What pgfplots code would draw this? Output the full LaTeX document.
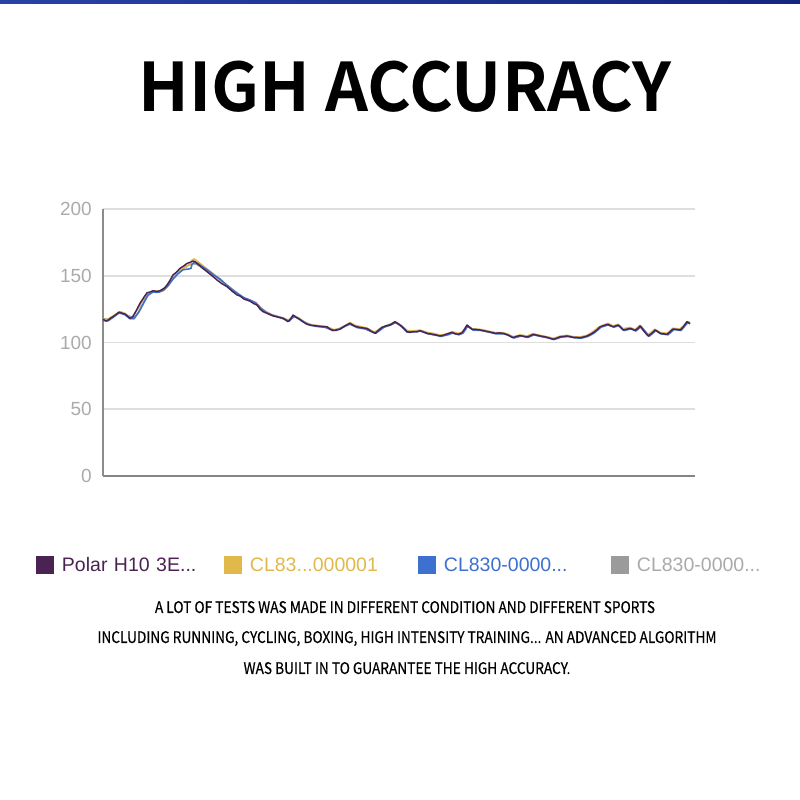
\documentclass[border=0pt]{standalone}
\usepackage{fontspec}
\usepackage{pgfplots}
\pgfplotsset{compat=1.18}
\setmainfont{Liberation Sans}
\newfontfamily\notosans{Noto Sans CJK SC}[BoldFont=* Bold]
\newfontfamily\bodyfont{Noto Sans CJK SC}[FakeStretch=0.856, FakeBold=0.35]
\definecolor{cpurple}{HTML}{4A2352}
\definecolor{cyellow}{HTML}{E1B94A}
\definecolor{cblue}{HTML}{3E70D0}
\definecolor{cgray}{HTML}{9B9B9B}
\definecolor{barL}{RGB}{40,66,165}
\definecolor{barR}{RGB}{20,38,128}

\pgfplotstableread{
x y
0 117.4
3 116.0
5 116.8
8 118.5
10 119.3
13 121.0
16 122.8
19 122.0
22 121.3
25 119.5
27 118.1
30 119.3
33 123.5
37 129.4
41 134.0
44 137.3
47 137.8
50 138.8
54 138.2
57 138.8
61 140.5
64 143
67 146.5
70 150.6
74 153.0
77 155.6
81 157.5
84 159.3
87 160.0
90 161.0
92 160.5
94 159.3
99 156.0
104 153
109 150.0
114 146.8
119 144.0
124 141.8
129 138.5
134 135.6
137 134.8
141 132.5
147 131.0
151 129.0
154 128.1
157 125.0
160 123.1
165 121.5
170 119.9
175 119.0
180 118.1
185 115.6
188 118.0
190 120.6
193 119.0
195 118.1
200 115.5
204 113.6
209 112.8
214 112.4
219 112.0
224 111.8
227 110.0
230 108.9
234 109.5
237 109.9
242 112.5
247 114.4
251 112.5
254 111.8
259 111.0
264 110.6
268 108.5
272 106.9
276 109.5
279 111.4
283 112.5
287 113.1
292 115.6
297 113.1
301 110.5
304 108.1
307 107.5
310 108.1
314 108.0
317 108.9
320 108.0
324 106.9
327 106.5
330 106.1
334 105.5
337 104.9
341 105.6
344 106.5
349 107.6
352 106.5
355 106.1
359 107.3
362 110.5
364 113.1
366 111.5
369 109.9
373 109.8
377 109.4
381 108.8
385 108.1
389 107.5
392 106.9
396 107.2
400 106.9
405 105.6
410 103.6
413 104.5
417 105.2
421 104.6
424 104.1
427 105.0
430 106.1
434 105.5
437 104.9
441 104.4
444 103.9
447 103.2
450 102.4
454 103.3
457 104.3
461 104.6
464 104.9
467 104.4
470 103.9
474 103.8
477 103.6
481 104.2
484 104.9
487 106.0
490 107.3
494 109.5
497 111.8
501 112.8
505 113.6
507 112.8
510 111.8
513 112.5
515 113.1
518 111.0
520 109.4
524 110.0
527 110.6
530 109.8
532 108.9
535 110.8
537 112.4
541 108.5
545 104.9
549 107.0
552 109.4
555 108.0
557 106.9
561 106.4
564 106.1
567 108.0
570 110.1
574 109.8
577 109.4
580 111.5
584 115.6
587 114.0
}\polar

\pgfplotstableread{
x y
0 117.0
5 117.3
10 119.8
16 122.5
22 121.8
27 118.5
31 117.8
35 122.0
39 128.0
44 134.5
48 137.5
53 138.5
58 138.2
62 139.8
66 143.5
70 148.0
75 152.5
80 155.5
84 157.0
87 159.0
89 161.5
91 162.5
94 161.0
98 158.5
104 155.0
110 151.5
116 148.0
122 144.0
128 140.5
134 137.0
140 133.5
146 132.0
152 130.0
157 126.5
162 123.5
168 121.0
174 119.5
180 118.5
185 116.5
190 119.8
195 118.5
200 116.0
205 113.8
212 112.8
220 112.2
226 111.0
231 109.5
237 110.5
243 113.0
247 114.8
253 112.5
260 111.5
266 110.0
272 107.5
279 111.0
286 113.5
292 115.0
298 112.5
304 108.8
310 108.6
317 109.2
324 107.5
330 106.8
337 105.5
344 106.2
349 108.0
355 106.8
359 107.5
364 112.6
369 110.2
377 109.8
385 108.6
392 107.3
400 107.2
405 106.2
410 104.2
417 105.6
424 104.8
430 106.5
437 105.3
444 104.2
450 103.0
457 104.6
464 105.3
470 104.3
477 104.0
484 105.3
490 108.0
495 111.0
501 113.2
505 114.2
510 112.3
515 113.5
520 110.2
527 111.2
532 109.6
537 112.8
545 105.8
552 109.8
557 107.5
564 106.8
570 110.6
577 110.0
584 115.0
587 114.5
}\yellow

\pgfplotstableread{
x y
0 116.5
5 116.2
10 118.8
16 122.2
22 120.8
27 117.8
31 118.0
36 123.0
41 130.0
45 135.5
50 137.8
55 137.5
60 139.0
65 142.5
70 147.5
75 151.5
80 154.5
85 155.0
88 155.5
89 158.5
91 160.0
94 159.5
99 157.0
105 154.0
111 150.5
117 147.5
123 143.5
129 139.8
135 136.5
141 133.5
147 131.8
153 129.5
158 125.5
163 122.5
169 120.5
175 119.2
181 117.8
186 116.0
191 119.5
196 117.8
201 115.2
207 113.0
214 112.0
222 111.4
228 109.6
233 109.0
240 111.5
247 113.8
254 111.2
262 110.2
269 108.0
273 107.0
281 111.5
288 113.4
293 115.0
298 112.4
304 107.8
311 108.0
318 108.5
325 106.5
331 105.8
338 104.6
345 105.8
350 107.2
356 105.8
360 107.0
365 112.5
370 109.4
378 109.0
386 107.8
393 106.5
401 106.6
406 105.2
411 103.4
418 104.9
425 103.8
431 105.8
438 104.5
445 103.5
451 102.2
458 104.0
465 104.6
471 103.6
478 103.2
485 104.6
491 107.0
498 111.5
505 113.2
511 111.5
516 112.8
521 109.0
528 110.2
533 108.6
538 112.0
546 104.6
553 109.0
558 106.5
565 105.8
571 109.8
578 109.0
585 115.2
587 114.8
}\blue

\pgfplotstableread{
x y
0 117.8
6 117.2
12 120.5
18 122.8
24 120.5
29 118.8
34 124.5
39 131.0
45 136.8
51 138.0
57 138.5
63 141.5
69 148.5
75 153.8
81 157.0
86 158.0
90 159.0
93 158.8
98 156.8
104 153.8
110 150.8
116 147.5
122 143.8
128 140.2
134 136.5
140 133.8
146 131.5
152 129.8
157 126.0
163 122.8
169 120.6
176 119.0
182 117.5
186 116.2
191 120.0
196 118.0
202 115.0
208 113.2
216 112.3
224 111.6
230 109.2
237 110.2
246 114.0
253 112.0
262 110.8
271 107.3
279 111.2
288 113.2
292 115.2
298 112.8
305 108.3
312 108.3
318 108.6
326 106.6
333 105.4
341 105.4
348 107.2
355 106.4
360 107.6
364 112.8
370 109.6
379 109.2
387 107.8
394 107.0
402 106.6
410 103.8
418 105.0
425 104.4
430 105.9
438 104.7
446 103.6
451 102.6
459 104.4
466 104.6
472 103.7
479 103.8
486 105.4
491 107.8
497 111.5
505 113.4
511 112.0
516 112.8
521 109.6
528 110.4
533 109.2
537 112.0
545 105.2
552 109.2
558 106.8
565 106.2
570 109.8
578 109.6
584 115.4
587 114.2
}\grayt

\begin{document}
\begin{tikzpicture}[x=1pt,y=1pt]
\fill[white] (0,0) rectangle (800,800);
\shade[left color=barL, right color=barR] (0,796.5) rectangle (800,800);

\node[anchor=base, inner sep=0pt] at (405,688)
  {\notosans\bfseries\fontsize{67}{76}\selectfont HIGH ACCURACY};

\coordinate (AX) at (103pt,324pt);

\begin{axis}[
  at={(AX)}, anchor=origin,
  scale only axis, width=592pt, height=267pt,
  xmin=0, xmax=592, ymin=0, ymax=200,
  axis x line=bottom, axis y line=left,
  x axis line style={-, draw=black!48, line width=1.6pt},
  y axis line style={-, draw=black!45, line width=1.3pt},
  xtick=\empty,
  ytick={0,50,100,150,200},
  major tick length=0pt,
  ymajorgrids,
  grid style={draw=black!13, line width=1.6pt},
  /pgf/number format/assume math mode=true,
  yticklabel style={font=\fontsize{19}{19}\selectfont, text=black!33,
     inner sep=0pt, anchor=east, xshift=-11pt},
  legend columns=4,
  legend image code/.code={\fill[#1, draw=none] (0pt,-9pt) rectangle (18pt,9pt);},
  legend style={at={(axis description cs:-0.1132,-0.3333)}, anchor=west,
     draw=none, fill=none, inner sep=0pt, outer sep=0pt,
     font=\fontsize{19.5}{20}\selectfont,
     nodes={inner sep=0pt, anchor=west},
     /tikz/every odd column/.append style={column sep=8pt}},
  legend cell align=left,
  clip=false,
]
\addlegendimage{cpurple}
\addlegendentry[text=cpurple, text width=162pt]{Polar H10 3E...}
\addlegendimage{cyellow}
\addlegendentry[text=cyellow, text width=168pt]{CL83...000001}
\addlegendimage{cblue}
\addlegendentry[text=cblue, text width=167pt]{CL830-0000...}
\addlegendimage{cgray}
\addlegendentry[text=cgray!85]{CL830-0000...}

\addplot[forget plot, cgray, line width=1.7pt, line join=round] table[x=x,y=y] {\grayt};
\addplot[forget plot, cyellow, line width=1.8pt, line join=round] table[x=x,y=y] {\yellow};
\addplot[forget plot, cblue, line width=1.6pt, line join=round] table[x=x,y=y] {\blue};
\addplot[forget plot, cpurple, line width=1.4pt, line join=round] table[x=x,y=y] {\polar};
\end{axis}

\node[anchor=base, inner sep=0pt] at (405,187)
  {\bodyfont\fontsize{16}{16}\selectfont A LOT OF TESTS WAS MADE IN DIFFERENT CONDITION AND DIFFERENT SPORTS};
\node[anchor=base, inner sep=0pt] at (407,157)
  {\bodyfont\fontsize{16}{16}\selectfont INCLUDING RUNNING, CYCLING, BOXING, HIGH INTENSITY TRAINING... AN ADVANCED ALGORITHM};
\node[anchor=base, inner sep=0pt] at (407,126)
  {\bodyfont\fontsize{16}{16}\selectfont WAS BUILT IN TO GUARANTEE THE HIGH ACCURACY.};
\end{tikzpicture}
\end{document}
